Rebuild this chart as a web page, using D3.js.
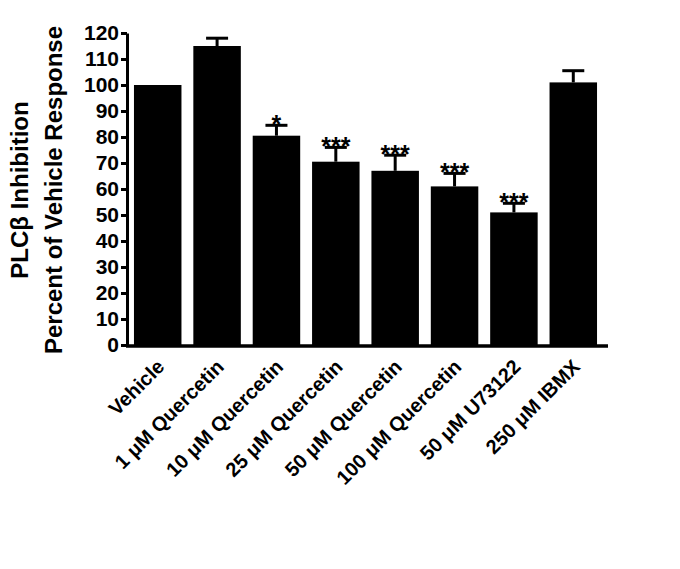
<!DOCTYPE html><html><head><script src="https://cdn.jsdelivr.net/npm/d3@7"></script>
<style>body{margin:0;background:#fff}text{font-family:"Liberation Sans",Arial,sans-serif;font-weight:bold}</style></head><body>
<svg id="c" width="680" height="569"></svg>
<script>
const categories=["Vehicle","1 \u03bcM Quercetin","10 \u03bcM Quercetin","25 \u03bcM Quercetin","50 \u03bcM Quercetin","100 \u03bcM Quercetin","50 \u03bcM U73122","250 \u03bcM IBMX"];
const values=[100,115,80.5,70.5,67,61,51,101];
const errors=[0,3,4,5.5,6,5,3.5,4.5];
const stars=["","","*","***","***","***","***",""];
const yTicks=d3.range(0,121,10);
const rows=categories.map((c,i)=>({c,v:values[i],e:errors[i],s:stars[i]}));
const svg=d3.select("#c");
const x=d3.scaleBand().domain(categories).range([131,600]).paddingInner(0.2).paddingOuter(0.05);
const y=d3.scaleLinear().domain([0,120]).range([345,33]);
const cx=d=>x(d.c)+x.bandwidth()/2;
const ya=svg.append("g").attr("transform","translate(127,0)").call(d3.axisLeft(y).tickValues(yTicks).tickSize(6).tickSizeOuter(0));
ya.select(".domain").attr("stroke-width",3);
ya.selectAll(".tick line").attr("stroke-width",3);
ya.selectAll("text").attr("font-size",21).attr("fill","#000").attr("x",-8);
svg.append("line").attr("x1",126).attr("x2",608).attr("y1",346).attr("y2",346).attr("stroke","#000").attr("stroke-width",3.5);
const eb=rows.filter(d=>d.e>0);
svg.selectAll(".eb").data(eb).join("line").attr("x1",cx).attr("x2",cx).attr("y1",d=>y(d.v)).attr("y2",d=>y(d.v+d.e)).attr("stroke","#000").attr("stroke-width",3);
svg.selectAll(".cap").data(eb).join("line").attr("x1",d=>cx(d)-11).attr("x2",d=>cx(d)+11).attr("y1",d=>y(d.v+d.e)).attr("y2",d=>y(d.v+d.e)).attr("stroke","#000").attr("stroke-width",3);
svg.selectAll(".bar").data(rows).join("rect").attr("x",d=>x(d.c)).attr("width",x.bandwidth()).attr("y",d=>y(d.v)).attr("height",d=>345-y(d.v)).attr("fill","#000");
svg.selectAll(".st").data(rows).join("text").attr("x",cx).attr("y",d=>y(d.v+d.e)+8).attr("text-anchor","middle").attr("font-size",25).text(d=>d.s);
svg.selectAll(".xl").data(categories).join("text").attr("font-size",20).attr("text-anchor","end")
 .attr("transform",d=>`translate(${x(d)+x.bandwidth()/2+8},${368}) rotate(-45)`).text(d=>d);
const yt=svg.append("text").attr("transform","translate(0,190) rotate(-90)").attr("text-anchor","middle").attr("font-size",24);
yt.append("tspan").attr("x",0).attr("y",28).text("PLC\u03b2 Inhibition");
yt.append("tspan").attr("x",0).attr("y",62).text("Percent of Vehicle Response");
</script></body></html>
